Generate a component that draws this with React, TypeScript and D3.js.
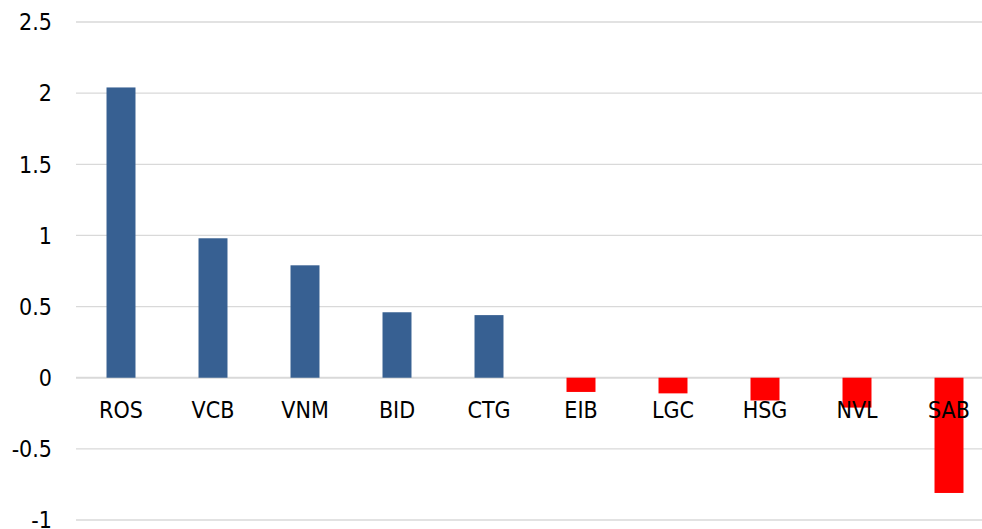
import React from 'react'
import * as d3 from 'd3'

const tickers = ['ROS', 'VCB', 'VNM', 'BID', 'CTG', 'EIB', 'LGC', 'HSG', 'NVL', 'SAB']
const impact = [2.04, 0.98, 0.79, 0.46, 0.44, -0.1, -0.11, -0.16, -0.21, -0.81]
const yTicks = [-1, -0.5, 0, 0.5, 1, 1.5, 2, 2.5]

const width = 982
const height = 529

const x = d3.scaleBand().domain(tickers).range([75, 995]).paddingInner(0.685).paddingOuter(0.3425)

const y = d3.scaleLinear().domain([-1, 2.5]).range([520, 22])

const font = '"DejaVu Sans Condensed", "DejaVu Sans", sans-serif'

export default function App() {
  return (
    <svg
      width={width}
      height={height}
      style={{ position: 'absolute', left: 0, top: 0, background: '#fff' }}
      fontFamily={font}
      fontSize="23"
    >
      {yTicks.map(t => (
        <g key={t}>
          <line
            x1={76}
            x2={width}
            y1={y(t)}
            y2={y(t)}
            stroke="#d9d9d9"
            strokeWidth={t === 0 ? 2 : 1.3}
          />
          <text x={52} y={y(t)} dy="0.36em" textAnchor="end" fill="#000">
            {t}
          </text>
        </g>
      ))}
      {tickers.map((d, i) => {
        const v = impact[i]
        return (
          <rect
            key={d}
            x={x(d)}
            y={y(Math.max(0, v))}
            width={x.bandwidth()}
            height={Math.abs(y(v) - y(0))}
            fill={v >= 0 ? '#376092' : '#ff0000'}
          />
        )
      })}
      {tickers.map(d => (
        <text
          key={d}
          x={(x(d) as number) + x.bandwidth() / 2}
          y={418}
          textAnchor="middle"
          fill="#000"
        >
          {d}
        </text>
      ))}
    </svg>
  )
}
